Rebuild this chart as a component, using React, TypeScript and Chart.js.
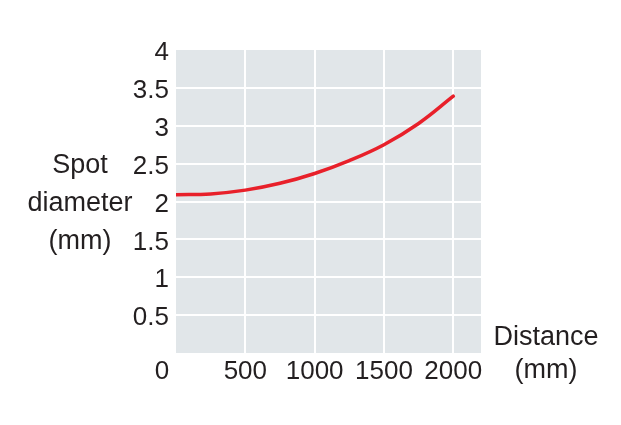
import React, { useEffect, useRef } from "react";
import { Chart, registerables } from "chart.js";

Chart.register(...registerables);

const distances = [0, 250, 500, 750, 1000, 1250, 1500, 1750, 2000];
const spotDiameter = [2.09, 2.1, 2.15, 2.24, 2.37, 2.54, 2.75, 3.03, 3.39];
const xTickValues = [500, 1000, 1500, 2000];
const yTickValues = [0.5, 1, 1.5, 2, 2.5, 3, 3.5, 4];
const yTitleLines = ["Spot", "diameter", "(mm)"];
const xTitleLines = ["Distance", "(mm)"];
const originLabel = "0";

const FONT = "'Liberation Sans', Arial, Helvetica, sans-serif";
const TEXT_COLOR = "#231f20";

const decorPlugin = {
  id: "decor",
  beforeDraw(chart: any) {
    const { ctx, chartArea } = chart;
    const { left, top, right, bottom } = chartArea;
    ctx.save();
    ctx.fillStyle = "#e1e6e9";
    ctx.fillRect(left, top, right - left, bottom - top);
    ctx.restore();
  },
  afterDraw(chart: any) {
    const { ctx, chartArea } = chart;
    const { left, right, top, bottom } = chartArea;
    ctx.save();
    ctx.fillStyle = TEXT_COLOR;
    ctx.textBaseline = "middle";
    ctx.textAlign = "center";
    ctx.font = `27px ${FONT}`;
    yTitleLines.forEach((line, i) => {
      ctx.fillText(line, left - 96, top + 116 + i * 38);
    });
    xTitleLines.forEach((line, i) => {
      ctx.fillText(line, right + 65, bottom - 15 + i * 33);
    });
    ctx.font = `26px ${FONT}`;
    ctx.fillText(originLabel, left - 14, bottom + 19);
    ctx.restore();
  },
};

export default function App() {
  const canvasRef = useRef<HTMLCanvasElement | null>(null);

  useEffect(() => {
    if (!canvasRef.current) return;
    const chart = new Chart(canvasRef.current, {
      type: "line",
      data: {
        datasets: [
          {
            data: distances.map((d, i) => ({ x: d, y: spotDiameter[i] })),
            borderColor: "#e8202a",
            borderWidth: 3.5,
            pointRadius: 0,
            fill: false,
            tension: 0.4,
            borderCapStyle: "round",
          },
        ],
      },
      options: {
        responsive: false,
        animation: false,
        devicePixelRatio: 1,
        layout: { padding: { top: 50, right: 140, left: 0, bottom: 0 } },
        plugins: {
          legend: { display: false },
          tooltip: { enabled: false },
          title: { display: false },
        },
        scales: {
          x: {
            type: "linear",
            min: 0,
            max: 2200,
            border: { display: false },
            grid: {
              color: (ctx: any) => (ctx.tick && ctx.tick.value === 0 ? "rgba(0,0,0,0)" : "#ffffff"),
              lineWidth: 2,
              drawTicks: false,
            },
            afterBuildTicks: (scale: any) => {
              scale.ticks = [0, ...xTickValues].map((v) => ({ value: v }));
            },
            afterFit: (scale: any) => {
              scale.height = 72;
            },
            ticks: {
              includeBounds: false,
              padding: 3,
              maxRotation: 0,
              autoSkip: false,
              color: TEXT_COLOR,
              font: { family: FONT, size: 26 },
              callback: (v: any) => (xTickValues.includes(Number(v)) ? String(v) : ""),
            },
          },
          y: {
            type: "linear",
            min: 0,
            max: 4,
            border: { display: false },
            grid: {
              color: (ctx: any) => {
                const v = ctx.tick ? ctx.tick.value : null;
                if (v === 0 || v === 4) return "rgba(0,0,0,0)";
                return "#ffffff";
              },
              lineWidth: 2,
              drawTicks: false,
            },
            afterBuildTicks: (scale: any) => {
              scale.ticks = [0, ...yTickValues].map((v) => ({ value: v }));
            },
            afterFit: (scale: any) => {
              scale.width = 176;
            },
            ticks: {
              padding: 7,
              labelOffset: 3,
              autoSkip: false,
              color: TEXT_COLOR,
              font: { family: FONT, size: 26 },
              callback: (v: any) => (yTickValues.includes(Number(v)) ? String(v) : ""),
            },
          },
        },
      },
      plugins: [decorPlugin],
    } as any);
    return () => chart.destroy();
  }, []);

  return (
    <div style={{ position: "fixed", left: 0, top: 0, width: 621, height: 425, background: "#ffffff" }}>
      <canvas ref={canvasRef} width={621} height={425} style={{ width: 621, height: 425, display: "block" }} />
    </div>
  );
}
